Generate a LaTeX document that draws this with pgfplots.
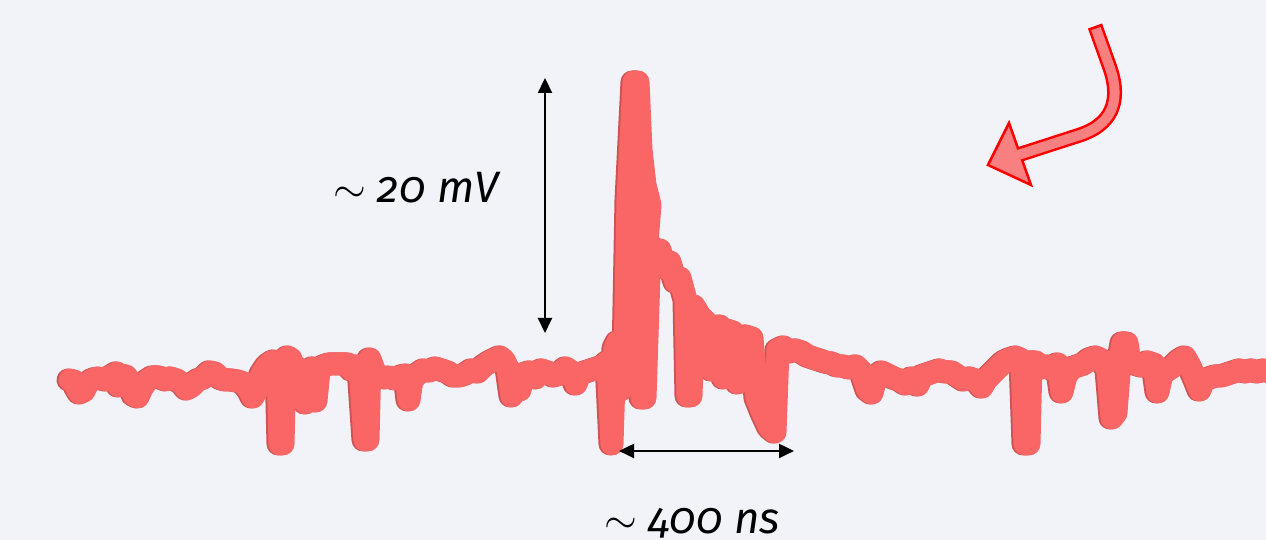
\documentclass[border=0pt]{standalone}
\usepackage{pgfplots}
\pgfplotsset{compat=1.18}
\usepackage{pgfplotstable}
\usepackage{fontspec}
\setmainfont{Fira Sans}[Numbers=OldStyle]
\usetikzlibrary{arrows.meta}
\definecolor{bgc}{RGB}{241,243,249}
\definecolor{trace}{RGB}{250,102,102}
\definecolor{traceshade}{RGB}{206,84,84}
\definecolor{pinkfill}{RGB}{248,128,128}

% oscilloscope trace, pixel coordinates of the reference (y downwards)
\pgfplotstableread{
x y
70 380
74 381
77 388
80 393
84 391
88 383
94 379
100 378
106 380
112 376
117 373
119 386
121 375
126 376
131 382
134 395
138 397
142 388
147 381
153 377
160 377
166 380
171 378
177 380
183 384
187 389
192 386
198 380
204 378
210 372
215 373
220 378
226 380
232 380
238 381
244 383
250 391
253 397
257 390
262 374
268 365
274 361
278 362
280 444
283 444
285 361
288 357
291 359
294 368
298 368
302 372
306 403
309 372
313 368
316 401
319 370
324 366
330 364
336 364
342 364
348 364
352 370
356 366
360 368
365 440
368 440
370 359
374 370
378 376
384 378
390 377
396 379
402 376
406 375
409 400
412 380
418 374
424 370
430 371
436 368
442 370
448 372
454 376
460 376
466 374
472 370
478 372
484 366
490 362
496 359
500 357
504 360
508 368
512 396
516 376
520 390
524 374
530 372
536 378
542 370
548 372
554 376
560 374
566 368
572 372
576 384
580 374
586 372
592 370
598 368
604 366
608 362
612 444
615 348
618 342
621 390
625 360
628 200
634 82
638 82
641 150
645 185
650 205
648 230
643 300
642 398
645 398
650 244
656 256
660 250
666 268
670 262
676 282
680 278
686 300
688 396
691 396
694 306
700 316
706 322
712 370
715 330
720 326
724 378
727 330
733 332
738 383
741 340
746 336
752 338
757 398
763 413
770 428
775 432
778 350
784 347
790 352
796 350
802 352
808 356
814 358
820 360
826 362
832 363
838 366
844 366
850 368
856 366
862 372
868 390
872 393
876 378
882 372
888 375
894 378
900 380
906 384
912 378
918 385
922 376
928 374
934 372
940 370
946 372
952 372
958 376
964 380
970 378
976 380
982 387
986 380
992 374
998 368
1004 362
1010 359
1016 357
1022 360
1025 444
1029 444
1031 362
1036 362
1042 368
1048 366
1054 370
1058 364
1062 392
1066 376
1072 368
1078 366
1084 364
1090 359
1096 357
1102 360
1108 370
1112 418
1116 413
1120 360
1123 343
1127 343
1130 362
1136 364
1142 366
1148 362
1154 364
1158 392
1162 374
1168 370
1174 366
1180 360
1185 357
1190 366
1196 380
1200 390
1204 380
1210 378
1216 376
1222 376
1228 374
1234 372
1240 370
1246 372
1252 370
1258 372
1264 370
1272 372
}\tracedata

\begin{document}
\begin{tikzpicture}
\begin{axis}[
    width=12.66cm, height=5.4cm, scale only axis,
    xmin=0, xmax=1266, ymin=0, ymax=540, y dir=reverse,
    hide axis, clip=true,
  ]
  \fill[bgc] (axis cs:0,0) rectangle (axis cs:1266,540);

  % shaded rim, then the trace itself
  \addplot[traceshade, line width=2.3mm, line join=round, line cap=round, no markers]
    table[x expr=\thisrow{x}-2, y=y] {\tracedata};
  \addplot[trace, line width=2.3mm, line join=round, line cap=round, no markers]
    table[x=x, y=y] {\tracedata};

  % amplitude and width markers
  \draw[black, line width=0.22mm, {Triangle[length=1.5mm,width=1.4mm]}-{Triangle[length=1.5mm,width=1.4mm]}]
    (axis cs:545,78) -- (axis cs:545,333);
  \draw[black, line width=0.22mm, {Triangle[length=1.5mm,width=1.4mm]}-{Triangle[length=1.5mm,width=1.4mm]}]
    (axis cs:619,451) -- (axis cs:794,451);
  \node[anchor=base, font=\itshape\fontsize{12.5}{15}\selectfont, inner sep=0pt]
    at (axis cs:416,203) {$\sim$ 20 mV};
  \node[anchor=base, font=\itshape\fontsize{12.5}{15}\selectfont, inner sep=0pt]
    at (axis cs:692,534) {$\sim$ 400 ns};

  % curved pointer arrow
  \draw[red, line width=1.5mm] (axis cs:1095,26) -- (axis cs:1110,68)
    .. controls (axis cs:1122,103) and (axis cs:1110,125) .. (axis cs:1080,135)
    -- (axis cs:1018,155);
  \filldraw[draw=red, fill=pinkfill, line width=0.25mm, line join=miter]
    (axis cs:988,165) -- (axis cs:1009,123) -- (axis cs:1031,185) -- cycle;
  \draw[pinkfill, line width=1.0mm] (axis cs:1095.9,28.6) -- (axis cs:1110,68)
    .. controls (axis cs:1122,103) and (axis cs:1110,125) .. (axis cs:1080,135)
    -- (axis cs:1012,157);
\end{axis}
\pgfresetboundingbox
\path (current axis.south west) rectangle (current axis.north east);
\end{tikzpicture}
\end{document}
